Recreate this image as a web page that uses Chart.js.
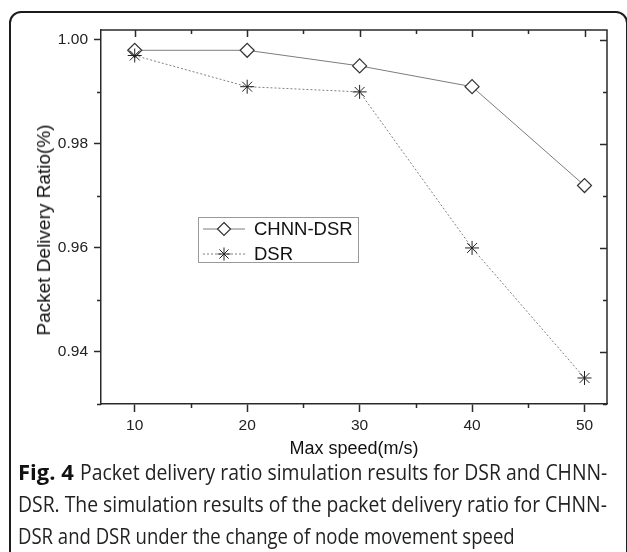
<!DOCTYPE html>
<html>
<head>
<meta charset="utf-8">
<script src="https://cdn.jsdelivr.net/npm/chart.js@4.4.1/dist/chart.umd.min.js"></script>
<style>
    html, body { margin: 0; padding: 0; background: #fff; }
    body { position: relative; width: 627px; height: 552px; overflow: hidden; font-family: "Liberation Sans", Arial, sans-serif; }
    #frame { position: absolute; left: 9px; top: 11px; width: 619px; height: 600px; box-sizing: border-box; border: 2px solid #1c1c1c; border-radius: 12px; }
    #chartBox { position: absolute; left: 0; top: 0; width: 627px; height: 470px; }
    #yTitle { position: absolute; left: 43.5px; top: 229.5px; transform: translate(-50%, -50%) rotate(-90deg); font-size: 19px; line-height: 20px; color: #111; white-space: nowrap; }
    #legend { position: absolute; left: 198px; top: 217px; width: 161px; height: 46px; box-sizing: border-box; border: 1px solid #9a9a9a; background: #fff; }
    #legend .row { position: absolute; left: 4px; height: 20px; display: flex; align-items: center; }
    #legend svg { display: block; }
    #legend span { margin-left: 9px; font-size: 18.5px; color: #111; line-height: 20px; }
    #caption { position: absolute; left: 18px; top: 455px; font-family: "Open Sans", sans-serif; font-size: 22px; line-height: 32px; color: #222; white-space: nowrap; }
    #caption .cl { height: 32px; }
    #caption b { font-weight: 700; color: #111; margin-right: 6px; }
    #caption .sq { display: inline-block; transform-origin: left center; }
</style>
</head>
<body>
<div id="frame"></div>
<div id="chartBox"><canvas id="chart" width="627" height="470"></canvas></div>
<div id="yTitle">Packet Delivery Ratio(%)</div>
<div id="legend"></div>
<div id="caption">
    <div class="cl"><b>Fig. 4</b><span class="sq">Packet delivery ratio simulation results for DSR and CHNN-</span></div>
    <div class="cl"><span class="sq">DSR. The simulation results of the packet delivery ratio for CHNN-</span></div>
    <div class="cl"><span class="sq">DSR and DSR under the change of node movement speed</span></div>
</div>
<script>
// values
const speeds = [10, 20, 30, 40, 50];
const chnnDsr = [0.998, 0.998, 0.995, 0.991, 0.972];
const dsr = [0.997, 0.991, 0.990, 0.960, 0.935];
const seriesNames = ['CHNN-DSR', 'DSR'];

const xTicks = [10, 20, 30, 40, 50];
const xMinorTicks = [15, 25, 35, 45];
const yTicks = [0.94, 0.96, 0.98, 1.00];
const yMinorTicks = [0.93, 0.95, 0.97, 0.99];

const axisColor = '#2a2a2a';
const fontFamily = '"Liberation Sans", Arial, sans-serif';

// top/right frame lines plus the minor and inward ticks Chart.js can't do by itself
const frameTicks = {
    id: 'frameTicks',
    afterDraw(chart) {
        const { ctx, chartArea: a, scales: { x, y } } = chart;
        ctx.save();
        ctx.strokeStyle = axisColor;
        ctx.lineWidth = 1.5;
        ctx.beginPath();
        ctx.moveTo(a.left, a.top);
        ctx.lineTo(a.right, a.top);
        ctx.lineTo(a.right, a.bottom);

        xTicks.forEach(v => {
            const px = Math.round(x.getPixelForValue(v)) + 0.5;
            ctx.moveTo(px, a.top);
            ctx.lineTo(px, a.top + 7);
        });
        xMinorTicks.forEach(v => {
            const px = Math.round(x.getPixelForValue(v)) + 0.5;
            ctx.moveTo(px, a.top);
            ctx.lineTo(px, a.top + 4);
            ctx.moveTo(px, a.bottom);
            ctx.lineTo(px, a.bottom + 4);
        });
        yTicks.forEach(v => {
            const py = Math.round(y.getPixelForValue(v)) + 0.5;
            ctx.moveTo(a.right, py);
            ctx.lineTo(a.right - 7, py);
        });
        yMinorTicks.forEach(v => {
            const py = Math.round(y.getPixelForValue(v)) + 0.5;
            ctx.moveTo(a.right, py);
            ctx.lineTo(a.right - 4, py);
            ctx.moveTo(a.left, py);
            ctx.lineTo(a.left - 4, py);
        });
        ctx.stroke();
        ctx.restore();
    }
};

const ctx = document.getElementById('chart');
new Chart(ctx, {
    type: 'line',
    data: {
        datasets: [
            {
                label: seriesNames[0],
                data: speeds.map((s, i) => ({ x: s, y: chnnDsr[i] })),
                borderColor: '#7c7c7c',
                borderWidth: 1,
                pointStyle: 'rectRot',
                pointRadius: 7,
                pointBackgroundColor: '#fff',
                pointBorderColor: '#333',
                pointBorderWidth: 1.2,
                tension: 0,
                order: 1
            },
            {
                label: seriesNames[1],
                data: speeds.map((s, i) => ({ x: s, y: dsr[i] })),
                borderColor: '#808080',
                borderWidth: 1,
                borderDash: [2, 2],
                pointStyle: 'star',
                pointRadius: 7,
                pointBorderColor: '#222',
                pointBorderWidth: 1,
                tension: 0,
                order: 0
            }
        ]
    },
    options: {
        responsive: false,
        animation: false,
        events: [],
        layout: { padding: { left: 0, top: 30, right: 20, bottom: 10 } },
        plugins: { legend: { display: false }, tooltip: { enabled: false } },
        scales: {
            x: {
                type: 'linear',
                min: 7,
                max: 52,
                afterBuildTicks: s => { s.ticks = xTicks.map(v => ({ value: v })); },
                afterFit: s => { s.height = 56; },
                grid: { drawOnChartArea: false, drawTicks: true, tickLength: 8, tickColor: axisColor, tickWidth: 1.5 },
                border: { display: true, color: axisColor, width: 1.5 },
                ticks: { padding: 4, color: '#222', maxRotation: 0, font: { family: fontFamily, size: 15.5 }, callback: v => String(v) },
                title: { display: true, text: 'Max speed(m/s)', color: '#111', font: { family: fontFamily, size: 18 }, padding: { top: 0, bottom: 0 } }
            },
            y: {
                type: 'linear',
                min: 0.93,
                max: 1.0019,
                afterBuildTicks: s => { s.ticks = yTicks.map(v => ({ value: v })); },
                afterFit: s => { s.width = 101; },
                grid: { drawOnChartArea: false, drawTicks: true, tickLength: 7, tickColor: axisColor, tickWidth: 1.5 },
                border: { display: true, color: axisColor, width: 1.5 },
                ticks: { padding: 6, color: '#222', font: { family: fontFamily, size: 15.5 }, callback: v => v.toFixed(2) },
                title: { display: false }
            }
        }
    },
    plugins: [frameTicks]
});

// legend built from the series names
const legend = document.getElementById('legend');
const legendRows = [
    `<line x1="0" y1="9" x2="42" y2="9" stroke="#7c7c7c" stroke-width="1"/>
     <polygon points="21,2.5 27.5,9 21,15.5 14.5,9" fill="#fff" stroke="#333" stroke-width="1.2"/>`,
    `<line x1="0" y1="9" x2="42" y2="9" stroke="#808080" stroke-width="1" stroke-dasharray="2 2"/>
     <path d="M21 2.5V15.5M14.5 9H27.5M16.4 4.4L25.6 13.6M25.6 4.4L16.4 13.6" stroke="#222" stroke-width="1"/>`
];
seriesNames.forEach((name, i) => {
    const row = document.createElement('div');
    row.className = 'row';
    row.style.top = (i === 0 ? 1 : 26) + 'px';
    row.innerHTML = `<svg width="42" height="18">${legendRows[i]}</svg><span>${name}</span>`;
    legend.appendChild(row);
});

// the caption face is narrower than Open Sans: squeeze each line to where it ends in the original
const capEnds = [589, 589, 497];
document.querySelectorAll('#caption .sq').forEach((span, i) => {
    const room = capEnds[i] - span.offsetLeft;
    span.style.transform = `scaleX(${room / span.offsetWidth})`;
});
</script>
</body>
</html>
